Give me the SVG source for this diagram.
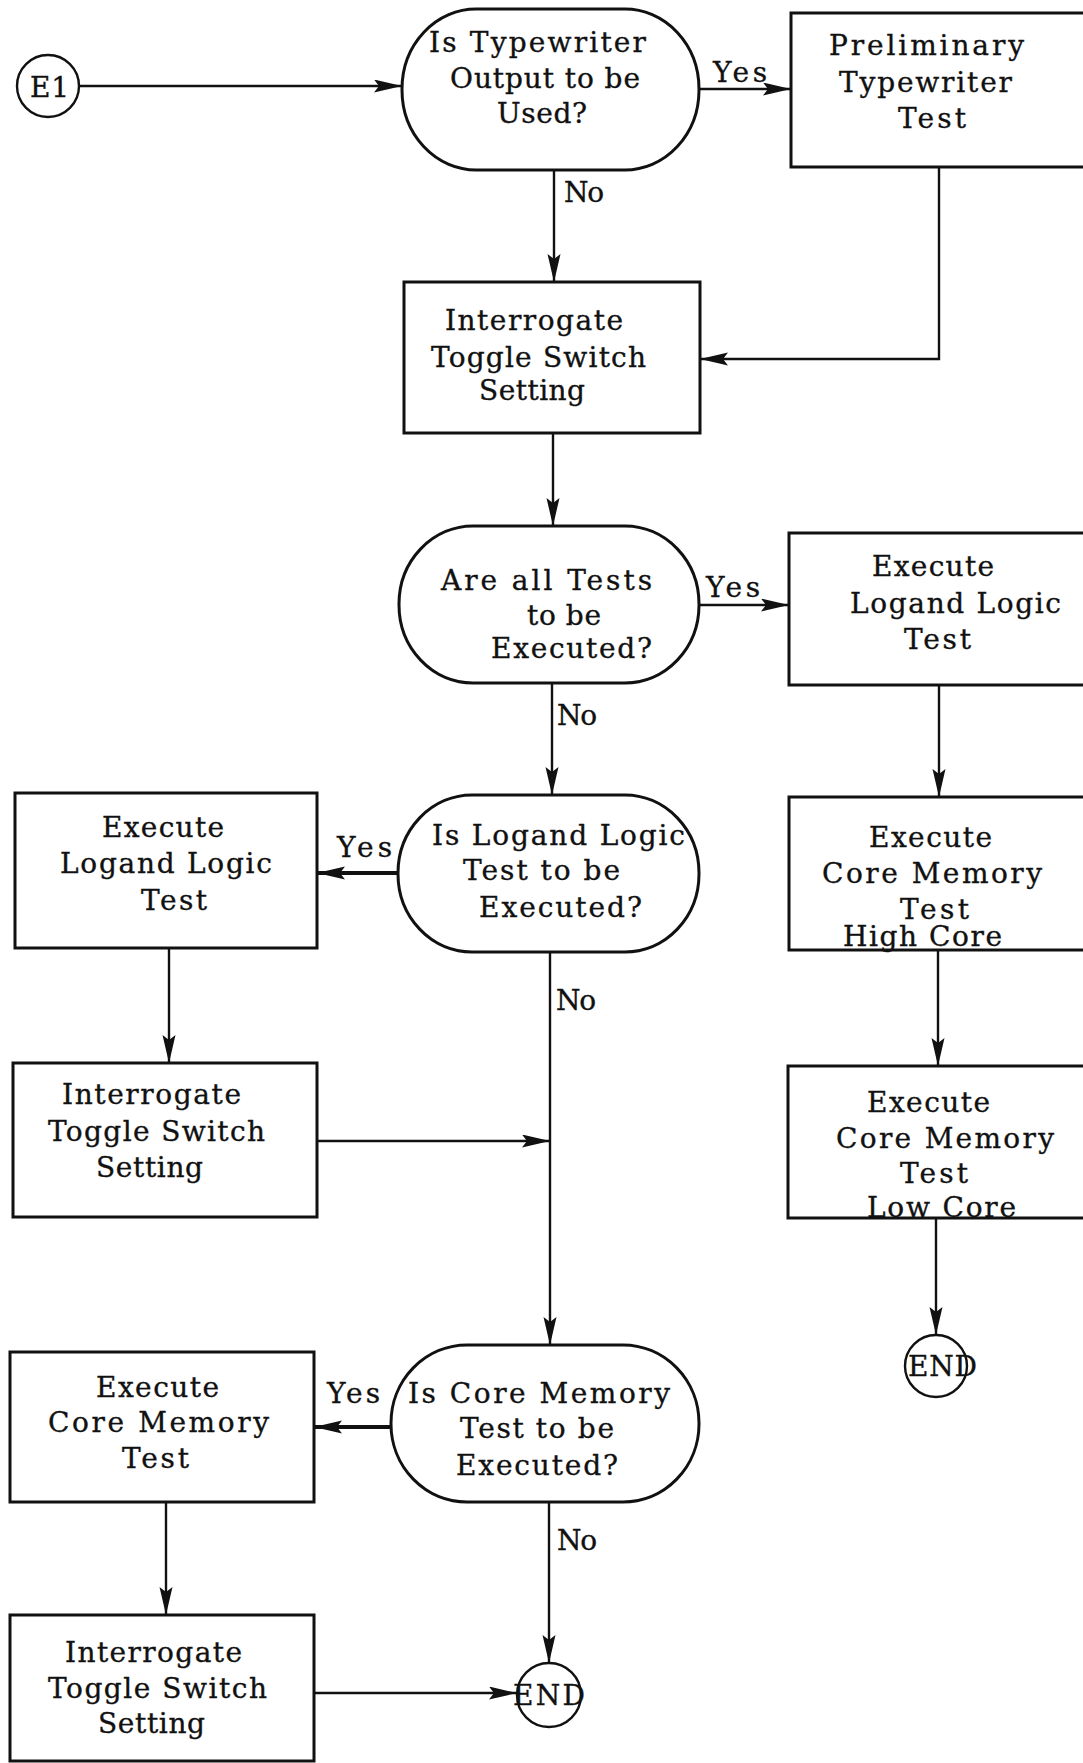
<svg xmlns="http://www.w3.org/2000/svg" width="1083" height="1763" viewBox="0 0 1083 1763">
<style>
.shape{fill:none;stroke:#111;stroke-width:3}
.circ{fill:none;stroke:#111;stroke-width:2.4}
.conn{fill:none;stroke:#111;stroke-width:2.4}
.thick{stroke-width:4}
text{font-family:"DejaVu Serif","Liberation Serif",serif;font-size:28px;fill:#111;stroke:#111;stroke-width:0.35}
</style>
<defs>
<marker id="ah" markerWidth="30" markerHeight="14" refX="28" refY="6.5" orient="auto" markerUnits="userSpaceOnUse">
<path d="M28,6.5 L0,0 L5,6.5 L0,13 Z" fill="#111"/>
</marker>
</defs>
<rect width="1083" height="1763" fill="#fff"/>

<g id="connectors">
<line class="conn" x1="80" y1="86" x2="402" y2="86" marker-end="url(#ah)"/>
<line class="conn" x1="699" y1="89" x2="791" y2="89" marker-end="url(#ah)"/>
<line class="conn" x1="554" y1="170" x2="554" y2="282" marker-end="url(#ah)"/>
<polyline class="conn" points="939,167 939,359 700,359" marker-end="url(#ah)"/>
<line class="conn" x1="553" y1="433" x2="553" y2="526" marker-end="url(#ah)"/>
<line class="conn" x1="699" y1="605" x2="789" y2="605" marker-end="url(#ah)"/>
<line class="conn" x1="552" y1="683" x2="552" y2="795" marker-end="url(#ah)"/>
<line class="conn" x1="939" y1="685" x2="939" y2="797" marker-end="url(#ah)"/>
<line class="conn" x1="938" y1="950" x2="938" y2="1066" marker-end="url(#ah)"/>
<line class="conn" x1="936" y1="1218" x2="936" y2="1335" marker-end="url(#ah)"/>
<line class="conn thick" x1="398" y1="873" x2="317" y2="873" marker-end="url(#ah)"/>
<line class="conn" x1="550" y1="952" x2="550" y2="1345" marker-end="url(#ah)"/>
<line class="conn" x1="169" y1="948" x2="169" y2="1063" marker-end="url(#ah)"/>
<line class="conn" x1="317" y1="1141" x2="550" y2="1141" marker-end="url(#ah)"/>
<line class="conn thick" x1="391" y1="1427" x2="314" y2="1427" marker-end="url(#ah)"/>
<line class="conn" x1="549" y1="1502" x2="549" y2="1663" marker-end="url(#ah)"/>
<line class="conn" x1="166" y1="1502" x2="166" y2="1615" marker-end="url(#ah)"/>
<line class="conn" x1="314" y1="1693" x2="517" y2="1693" marker-end="url(#ah)"/>
</g>

<g id="labels">
<text x="713" y="82" textLength="54" lengthAdjust="spacing">Yes</text>
<text x="564" y="202" textLength="40" lengthAdjust="spacing">No</text>
<text x="706" y="597" textLength="54" lengthAdjust="spacing">Yes</text>
<text x="557" y="725" textLength="40" lengthAdjust="spacing">No</text>
<text x="337" y="857" textLength="55" lengthAdjust="spacing">Yes</text>
<text x="556" y="1010" textLength="40" lengthAdjust="spacing">No</text>
<text x="327" y="1403" textLength="53" lengthAdjust="spacing">Yes</text>
<text x="557" y="1550" textLength="40" lengthAdjust="spacing">No</text>
</g>

<g id="E1">
<circle class="circ" cx="48" cy="86" r="31"/>
<text x="30" y="97" textLength="39" lengthAdjust="spacing">E1</text>
</g>

<g id="d1">
<rect class="shape" x="402" y="9" width="297" height="161" rx="74" ry="80"/>
<text x="429" y="52" textLength="217" lengthAdjust="spacing">Is Typewriter</text>
<text x="450" y="88" textLength="190" lengthAdjust="spacing">Output to be</text>
<text x="497" y="123" textLength="90" lengthAdjust="spacing">Used?</text>
</g>

<g id="prelim">
<rect class="shape" x="791" y="13" width="310" height="154"/>
<text x="829" y="55" textLength="195" lengthAdjust="spacing">Preliminary</text>
<text x="839" y="92" textLength="173" lengthAdjust="spacing">Typewriter</text>
<text x="898" y="128" textLength="68" lengthAdjust="spacing">Test</text>
</g>

<g id="interrogate1">
<rect class="shape" x="404" y="282" width="296" height="151"/>
<text x="445" y="330" textLength="178" lengthAdjust="spacing">Interrogate</text>
<text x="431" y="367" textLength="215" lengthAdjust="spacing">Toggle Switch</text>
<text x="479" y="400" textLength="106" lengthAdjust="spacing">Setting</text>
</g>

<g id="d2">
<rect class="shape" x="399" y="526" width="300" height="157" rx="74" ry="78"/>
<text x="441" y="590" textLength="211" lengthAdjust="spacing">Are all Tests</text>
<text x="527" y="625" textLength="74" lengthAdjust="spacing">to be</text>
<text x="491" y="658" textLength="161" lengthAdjust="spacing">Executed?</text>
</g>

<g id="logandR">
<rect class="shape" x="789" y="533" width="310" height="152"/>
<text x="872" y="576" textLength="122" lengthAdjust="spacing">Execute</text>
<text x="850" y="613" textLength="211" lengthAdjust="spacing">Logand Logic</text>
<text x="904" y="649" textLength="67" lengthAdjust="spacing">Test</text>
</g>

<g id="d3">
<rect class="shape" x="398" y="795" width="301" height="157" rx="74" ry="78"/>
<text x="432" y="845" textLength="253" lengthAdjust="spacing">Is Logand Logic</text>
<text x="463" y="880" textLength="157" lengthAdjust="spacing">Test to be</text>
<text x="479" y="917" textLength="163" lengthAdjust="spacing">Executed?</text>
</g>

<g id="logandL">
<rect class="shape" x="15" y="793" width="302" height="155"/>
<text x="102" y="837" textLength="122" lengthAdjust="spacing">Execute</text>
<text x="60" y="873" textLength="212" lengthAdjust="spacing">Logand Logic</text>
<text x="141" y="910" textLength="66" lengthAdjust="spacing">Test</text>
</g>

<g id="coreHigh">
<rect class="shape" x="789" y="797" width="310" height="153"/>
<text x="869" y="847" textLength="123" lengthAdjust="spacing">Execute</text>
<text x="822" y="883" textLength="220" lengthAdjust="spacing">Core Memory</text>
<text x="900" y="919" textLength="69" lengthAdjust="spacing">Test</text>
<text x="843" y="946" textLength="159" lengthAdjust="spacing">High Core</text>
</g>

<g id="interrogate2">
<rect class="shape" x="13" y="1063" width="304" height="154"/>
<text x="62" y="1104" textLength="179" lengthAdjust="spacing">Interrogate</text>
<text x="48" y="1141" textLength="217" lengthAdjust="spacing">Toggle Switch</text>
<text x="96" y="1177" textLength="107" lengthAdjust="spacing">Setting</text>
</g>

<g id="coreLow">
<rect class="shape" x="788" y="1066" width="310" height="152"/>
<text x="867" y="1112" textLength="123" lengthAdjust="spacing">Execute</text>
<text x="836" y="1148" textLength="218" lengthAdjust="spacing">Core Memory</text>
<text x="900" y="1183" textLength="68" lengthAdjust="spacing">Test</text>
<text x="867" y="1217" textLength="149" lengthAdjust="spacing">Low Core</text>
</g>

<g id="end1">
<circle class="circ" cx="936" cy="1366" r="31"/>
<text x="908" y="1376" textLength="69" lengthAdjust="spacing">END</text>
</g>

<g id="d4">
<rect class="shape" x="391" y="1345" width="308" height="157" rx="76" ry="78"/>
<text x="408" y="1403" textLength="262" lengthAdjust="spacing">Is Core Memory</text>
<text x="460" y="1438" textLength="154" lengthAdjust="spacing">Test to be</text>
<text x="456" y="1475" textLength="162" lengthAdjust="spacing">Executed?</text>
</g>

<g id="coreL">
<rect class="shape" x="10" y="1352" width="304" height="150"/>
<text x="96" y="1397" textLength="123" lengthAdjust="spacing">Execute</text>
<text x="48" y="1432" textLength="221" lengthAdjust="spacing">Core Memory</text>
<text x="122" y="1468" textLength="67" lengthAdjust="spacing">Test</text>
</g>

<g id="interrogate3">
<rect class="shape" x="10" y="1615" width="304" height="146"/>
<text x="65" y="1662" textLength="177" lengthAdjust="spacing">Interrogate</text>
<text x="48" y="1698" textLength="219" lengthAdjust="spacing">Toggle Switch</text>
<text x="98" y="1733" textLength="107" lengthAdjust="spacing">Setting</text>
</g>

<g id="end2">
<circle class="circ" cx="549" cy="1695" r="32"/>
<text x="513" y="1705" textLength="72" lengthAdjust="spacing">END</text>
</g>
</svg>
